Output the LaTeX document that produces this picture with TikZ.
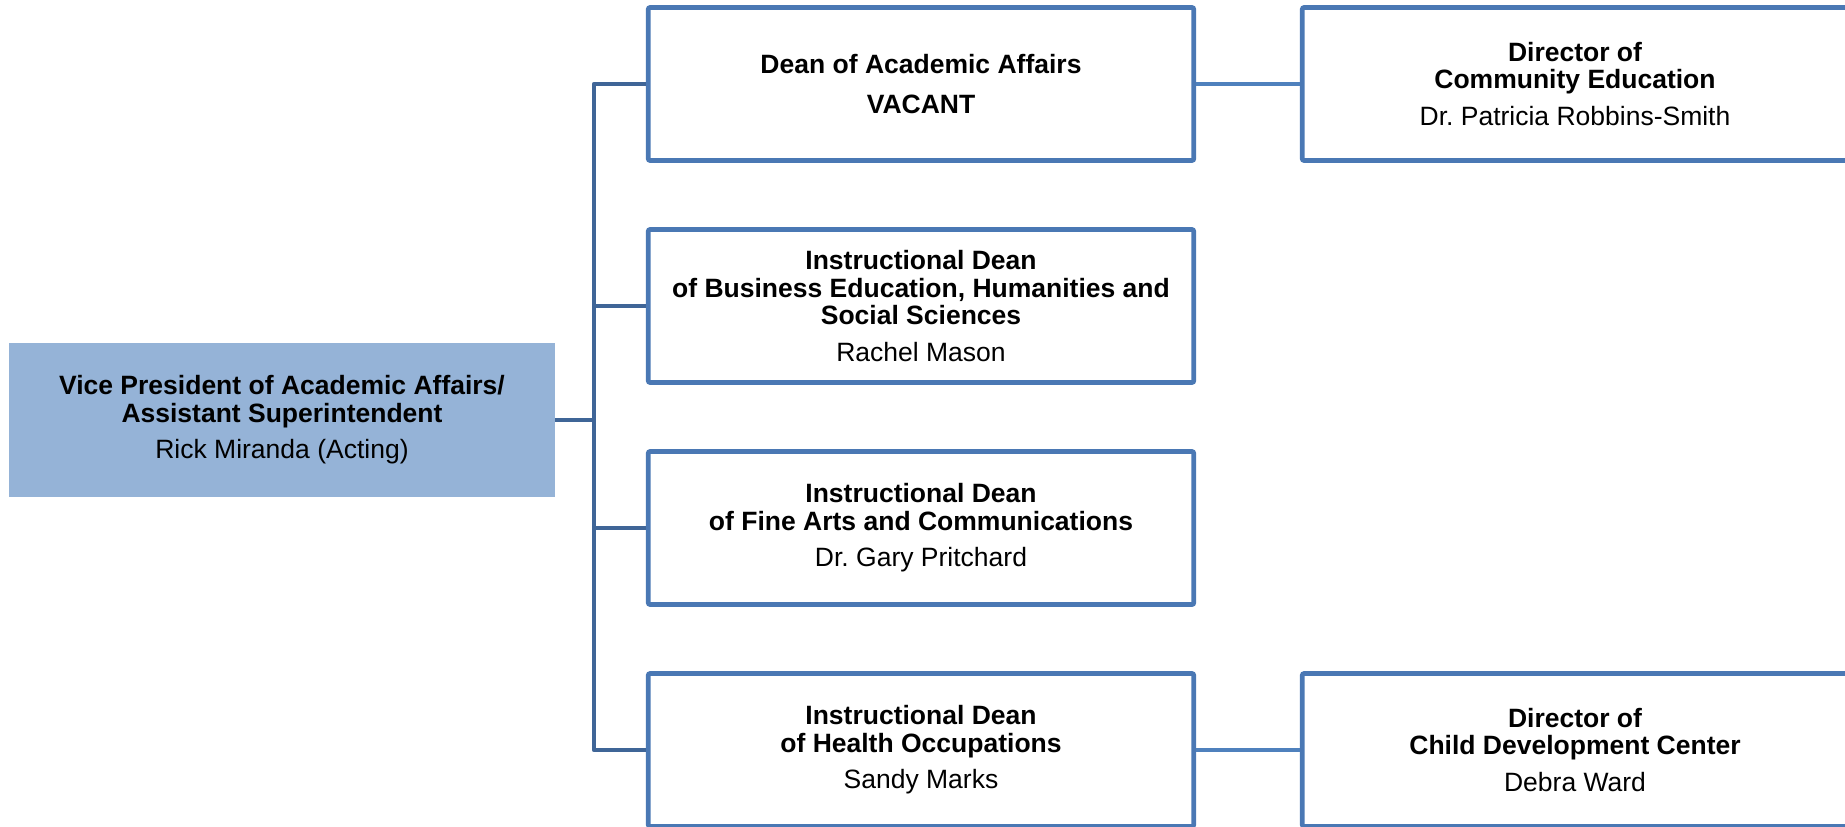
\documentclass[tikz,border=0pt]{standalone}
\usepackage{fontspec}
\setmainfont{Liberation Sans}
\frenchspacing
\definecolor{vpfill}{HTML}{95B3D7}
\definecolor{boxline}{HTML}{4A78B4}
\definecolor{trunkline}{HTML}{3F6597}
\definecolor{sideline}{HTML}{4F81BD}
\newcommand{\orgtext}{\fontsize{13.25}{13.7}\selectfont}
\begin{document}
\begin{tikzpicture}[x=0.5pt,y=-0.5pt]
            \tikzstyle{vpbox}=[rectangle, fill=vpfill, minimum width=273pt, minimum height=77pt, inner sep=0pt, align=center, font=\orgtext]
            \tikzstyle{deanbox}=[rectangle, draw=boxline, line width=2.4pt, rounded corners=1pt, fill=white, minimum width=272.75pt, minimum height=76.5pt, inner sep=0pt, align=center, font=\orgtext]
            \tikzstyle{trunk}=[draw=trunkline, line width=2.4pt, line join=round]
            \tikzstyle{side}=[draw=sideline, line width=2.4pt]
            \useasboundingbox (0,0) rectangle (1845,826);
            \clip (0,0) rectangle (1845,826);
            \node[vpbox] (vp) at (282,420) {\textbf{Vice President of Academic Affairs/}\\\textbf{Assistant Superintendent}\\[4.6pt]Rick Miranda (Acting)};
            \node[deanbox] (acad) at (921,84) {\textbf{Dean of Academic Affairs}\\[6.2pt]\textbf{VACANT}};
            \node[deanbox] (bus) at (921,306) {\textbf{Instructional Dean}\\\textbf{of Business Education, Humanities and}\\\textbf{Social Sciences}\\[4.6pt]Rachel Mason};
            \node[deanbox] (arts) at (921,528) {\textbf{Instructional Dean}\\\textbf{of Fine Arts and Communications}\\[4.6pt]Dr. Gary Pritchard};
            \node[deanbox] (health) at (921,750) {\textbf{Instructional Dean}\\\textbf{of Health Occupations}\\[4.6pt]Sandy Marks};
            \node[deanbox] (comm) at (1575,84) {\textbf{Director of}\\\textbf{Community Education}\\[4.6pt]Dr. Patricia Robbins-Smith};
            \node[deanbox] (child) at (1575,750) {\textbf{Director of}\\\textbf{Child Development Center}\\[4.6pt]Debra Ward};
            \coordinate (tr) at (594,0);
            % vertical line to the deans
            \path[trunk] (acad.west) -| (tr |- acad.west) |- (health.west);
            \path[trunk] (bus.west) -- (bus.west -| tr);
            \path[trunk] (arts.west) -- (arts.west -| tr);
            \path[trunk] (vp.east) -- (vp.east -| tr);
            \path[side] (acad) edge (comm);
            \path[side] (health) edge (child);
        \end{tikzpicture}
\end{document}
